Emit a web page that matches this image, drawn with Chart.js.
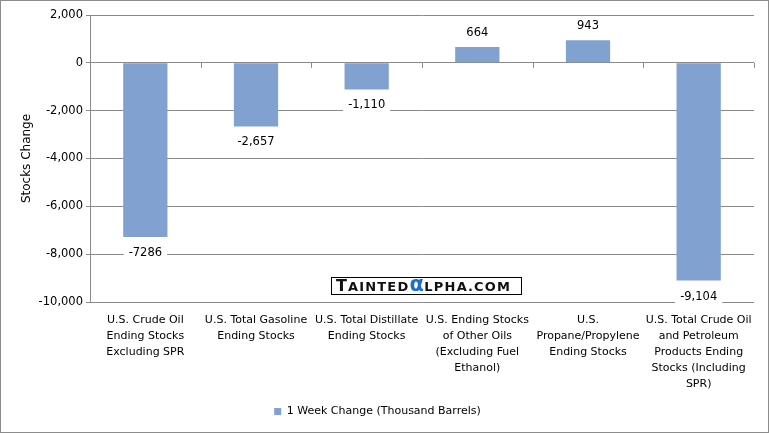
<!DOCTYPE html>
<html>
<head>
<meta charset="utf-8">
<script src="https://cdn.jsdelivr.net/npm/chart.js@4.4.0/dist/chart.umd.min.js"></script>
<style>
html,body{margin:0;padding:0;background:#fff;}
#wrap{width:769px;height:433px;position:relative;}
</style>
</head>
<body>
<div id="wrap"><canvas id="c" width="769" height="433"></canvas></div>
<script>
const categories = [
  ["U.S. Crude Oil","Ending Stocks","Excluding SPR"],
  ["U.S. Total Gasoline","Ending Stocks"],
  ["U.S. Total Distillate","Ending Stocks"],
  ["U.S. Ending Stocks","of Other Oils","(Excluding Fuel","Ethanol)"],
  ["U.S.","Propane/Propylene","Ending Stocks"],
  ["U.S. Total Crude Oil","and Petroleum","Products Ending","Stocks (Including","SPR)"]
];
const weekChange = [-7286, -2657, -1110, 664, 943, -9104];
const valueLabels = ["-7286", "-2,657", "-1,110", "664", "943", "-9,104"];
const yTicks = [2000, 0, -2000, -4000, -6000, -8000, -10000];
const seriesName = "1 Week Change (Thousand Barrels)";
const axisTitle = "Stocks Change";

const FONT = "'DejaVu Sans', sans-serif";
const GRID = "#8a8a8a";

const extras = {
  id: 'extras',
  afterDatasetsDraw(chart) {
    const ctx = chart.ctx;
    const x = chart.scales.x, y = chart.scales.y;
    const y0 = y.getPixelForValue(0);
    const left = chart.chartArea.left, right = chart.chartArea.right;
    ctx.save();
    ctx.strokeStyle = GRID;
    ctx.lineWidth = 1;
    const n = categories.length;
    const w = (right - left) / n;
    for (let i = 0; i <= n; i++) {
      const px = Math.round(left + i * w) + 0.5;
      ctx.beginPath();
      ctx.moveTo(px, y0);
      ctx.lineTo(px, y0 + 5);
      ctx.stroke();
    }
    ctx.font = "11.5px " + FONT;
    ctx.textAlign = 'center';
    ctx.textBaseline = 'middle';
    const meta = chart.getDatasetMeta(0);
    meta.data.forEach((bar, i) => {
      const v = weekChange[i];
      const txt = valueLabels[i];
      const ly = v < 0 ? bar.y + 16 : bar.y - 14;
      const tw = ctx.measureText(txt).width;
      ctx.fillStyle = '#ffffff';
      ctx.fillRect(bar.x - tw / 2 - 5, ly - 8, tw + 10, 16);
      ctx.fillStyle = '#000000';
      ctx.fillText(txt, bar.x, ly);
    });
    // logo
    const lx = 331, ly = 277, lw = 190, lh = 17;
    ctx.fillStyle = '#ffffff';
    ctx.fillRect(lx, ly, lw, lh);
    ctx.strokeStyle = '#000';
    ctx.lineWidth = 1;
    ctx.strokeRect(lx + 0.5, ly + 0.5, lw, lh);
    ctx.textAlign = 'left';
    ctx.textBaseline = 'alphabetic';
    const base = ly + 14;
    let cx = lx + 5;
    const parts = [
      ["T", "bold 16px " + FONT, "#111", 1],
      ["AINTED", "bold 13px " + FONT, "#111", 1.2],
      ["\u03B1", "bold 21px " + FONT, "#1a6fd0", 0.5],
      ["LPHA.COM", "bold 13px " + FONT, "#111", 1.2]
    ];
    parts.forEach(p => {
      ctx.font = p[1];
      ctx.fillStyle = p[2];
      for (const ch of p[0]) {
        ctx.fillText(ch, cx, base + (ch === "\u03B1" ? 0 : 0));
        cx += ctx.measureText(ch).width + p[3];
      }
    });
    ctx.restore();
  },
  afterDraw(chart) {
    const ctx = chart.ctx;
    ctx.save();
    ctx.strokeStyle = '#8c8c8c';
    ctx.lineWidth = 1;
    ctx.strokeRect(0.5, 0.5, chart.width - 1, chart.height - 1);
    ctx.restore();
  }
};

new Chart(document.getElementById('c'), {
  type: 'bar',
  data: {
    labels: categories,
    datasets: [{
      label: seriesName,
      data: weekChange,
      backgroundColor: 'rgb(129,161,209)',
      borderWidth: 0,
      barPercentage: 0.4,
      categoryPercentage: 1.0
    }]
  },
  options: {
    responsive: false,
    animation: false,
    devicePixelRatio: 1,
    layout: { padding: { left: 1, right: 15, top: 15, bottom: 6 } },
    plugins: {
      legend: {
        position: 'bottom',
        labels: {
          font: { family: FONT, size: 11 },
          color: '#000',
          boxWidth: 7,
          boxHeight: 7,
          padding: 10
        }
      },
      tooltip: { enabled: false }
    },
    scales: {
      x: {
        grid: { display: false },
        border: { display: false },
        ticks: {
          autoSkip: false,
          maxRotation: 0,
          minRotation: 0,
          color: '#000',
          padding: 2,
          font: { family: FONT, size: 11, lineHeight: 1.45 }
        },
        afterFit(s) { s.height = 94; }
      },
      y: {
        min: -10000,
        max: 2000,
        afterBuildTicks(s) { s.ticks = yTicks.map(v => ({ value: v })); },
        grid: { color: GRID, tickLength: 4, drawTicks: true },
        border: { display: true, color: GRID },
        ticks: {
          color: '#000',
          padding: 3,
          font: { family: FONT, size: 11.5 },
          callback: v => v.toLocaleString('en-US')
        },
        title: {
          display: true,
          text: axisTitle,
          color: '#000',
          font: { family: FONT, size: 12 },
          padding: { top: 19 }
        },
        afterFit(s) { s.width = 89; }
      }
    }
  },
  plugins: [extras]
});
</script>
</body>
</html>
